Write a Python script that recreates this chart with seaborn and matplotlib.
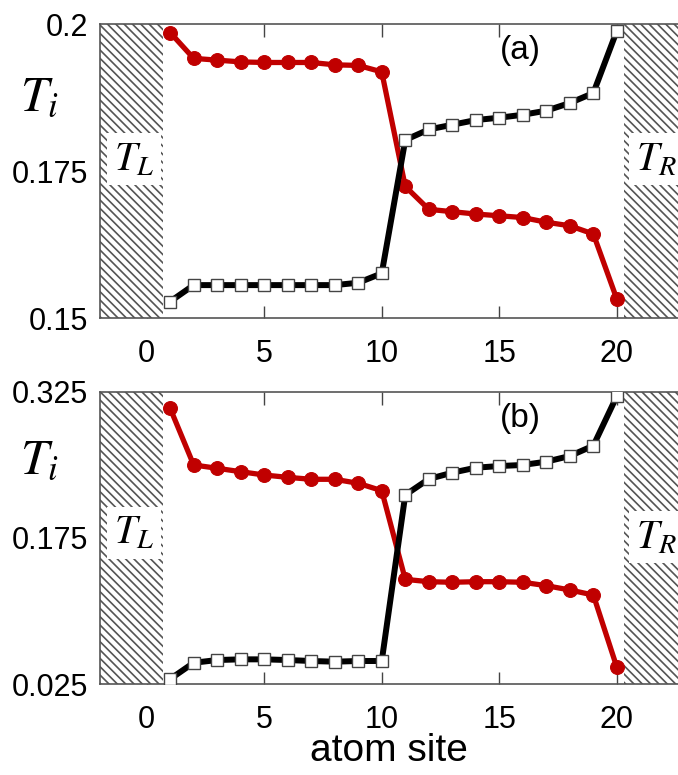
import matplotlib
matplotlib.use("Agg")
import matplotlib.pyplot as plt
import numpy as np
import pandas as pd
import seaborn as sns

# atom sites along the chain
sites = list(range(1, 21))

# panel (a): local temperatures
red_a = [0.1986, 0.1942, 0.1939, 0.1936, 0.1935, 0.1935, 0.1935, 0.1931, 0.1930, 0.1919,
         0.1724, 0.1685, 0.1681, 0.1677, 0.1674, 0.1671, 0.1663, 0.1657, 0.1643, 0.1532]
black_a = [0.1528, 0.1556, 0.1556, 0.1556, 0.1556, 0.1556, 0.1556, 0.1556, 0.1560, 0.1576,
           0.1803, 0.1821, 0.1829, 0.1837, 0.1841, 0.1846, 0.1853, 0.1866, 0.1883, 0.1989]

# panel (b): local temperatures
red_b = [0.3080, 0.2498, 0.2464, 0.2429, 0.2395, 0.2371, 0.2351, 0.2351, 0.2310, 0.2234,
         0.1324, 0.1300, 0.1294, 0.1300, 0.1300, 0.1294, 0.1259, 0.1215, 0.1163, 0.0421]
black_b = [0.0301, 0.0468, 0.0496, 0.0503, 0.0503, 0.0496, 0.0486, 0.0479, 0.0486, 0.0486,
           0.2190, 0.2354, 0.2419, 0.2470, 0.2487, 0.2498, 0.2532, 0.2590, 0.2696, 0.3206]

yticks_a = [0.15, 0.175, 0.2]
ytick_labels_a = ["0.15", "0.175", "0.2"]
yticks_b = [0.025, 0.175, 0.325]
ytick_labels_b = ["0.025", "0.175", "0.325"]
xticks = [0, 5, 10, 15, 20]
panel_tags = ["(a)", "(b)"]

sns.set_style("ticks")
plt.rcParams["font.family"] = ["Liberation Sans", "DejaVu Sans"]
plt.rcParams["mathtext.fontset"] = "stix"
plt.rcParams["hatch.linewidth"] = 1.2
plt.rcParams["text.color"] = "black"
plt.rcParams["axes.labelcolor"] = "black"
plt.rcParams["xtick.labelcolor"] = "black"
plt.rcParams["ytick.labelcolor"] = "black"

W, H = 678, 775
fig = plt.figure(figsize=(W / 100, H / 100), dpi=100)

left = 99.6 / W
right = 1.0
panels = [
    dict(top=24.3, bottom=318.0, red=red_a, black=black_a, yt=yticks_a, ytl=ytick_labels_a,
         ylim=(0.15, 0.2), tl_y=0.541, tr_y=0.541, tag_y=0.91, ti_base=110),
    dict(top=391.7, bottom=684.0, red=red_b, black=black_b, yt=yticks_b, ytl=ytick_labels_b,
         ylim=(0.025, 0.325), tl_y=0.517, tr_y=0.502, tag_y=0.91, ti_base=473),
]

xlo, xhi = -2.0, 22.6
red_col = "#c00000"
hatch_pat = "\\" * 4

for i, p in enumerate(panels):
    ax = fig.add_axes([left, 1 - p["bottom"] / H, right - left, (p["bottom"] - p["top"]) / H])
    ax.set_xlim(xlo, xhi)
    ax.set_ylim(*p["ylim"])

    # heat baths on both ends
    ax.axvspan(xlo, 0.7, facecolor="white", edgecolor="#555555", hatch=hatch_pat, linewidth=0, zorder=1)
    ax.axvspan(20.3, xhi, facecolor="white", edgecolor="#555555", hatch=hatch_pat, linewidth=0, zorder=1)

    df = pd.DataFrame({"site": sites, "red": p["red"], "black": p["black"]})
    sns.lineplot(data=df, x="site", y="red", ax=ax, color=red_col, lw=3.8,
                 marker="o", markersize=10, markerfacecolor=red_col, markeredgecolor=red_col,
                 zorder=3)
    sns.lineplot(data=df, x="site", y="black", ax=ax, color="black", lw=4.3,
                 marker="s", markersize=8.5, markerfacecolor="white", markeredgecolor="#444444",
                 markeredgewidth=1.0, zorder=4)

    ax.set_xlabel("")
    ax.set_ylabel("")
    ax.set_xticks(xticks)
    ax.set_xticklabels([str(t) for t in xticks])
    ax.set_yticks(p["yt"])
    ax.set_yticklabels(p["ytl"])
    ax.tick_params(axis="x", direction="in", length=9, width=1, color="#444444",
                   top=True, labelsize=22, pad=15, labelcolor="black")
    ax.tick_params(axis="y", length=0, labelsize=22, pad=8, labelcolor="black")
    for s in ["top", "left", "bottom"]:
        ax.spines[s].set_visible(True)
        ax.spines[s].set_color("#555555")
        ax.spines[s].set_linewidth(1.2)
    ax.spines["right"].set_visible(False)

    # bath labels
    ax.text(-0.55, p["tl_y"], r"$T_L$", transform=ax.get_xaxis_transform(),
            ha="center", va="center", fontsize=29, color="black", zorder=5,
            bbox=dict(facecolor="white", edgecolor="none", pad=5))
    ax.text(20.8, p["tr_y"], r"$T_R$", transform=ax.get_xaxis_transform(),
            ha="left", va="center", fontsize=29, color="black", zorder=5,
            bbox=dict(facecolor="white", edgecolor="none", pad=5))

    ax.text(15.9, p["tag_y"], panel_tags[i], transform=ax.get_xaxis_transform(),
            ha="center", va="center", fontsize=24, color="black", zorder=5)

    fig.text(20 / W, 1 - p["ti_base"] / H, r"$T_i$", ha="left", va="baseline",
             fontsize=36, color="black")

    if i == 1:
        ax.set_xlabel("atom site", fontsize=28, labelpad=-1, color="black")

fig.savefig("out.png", dpi=100)
